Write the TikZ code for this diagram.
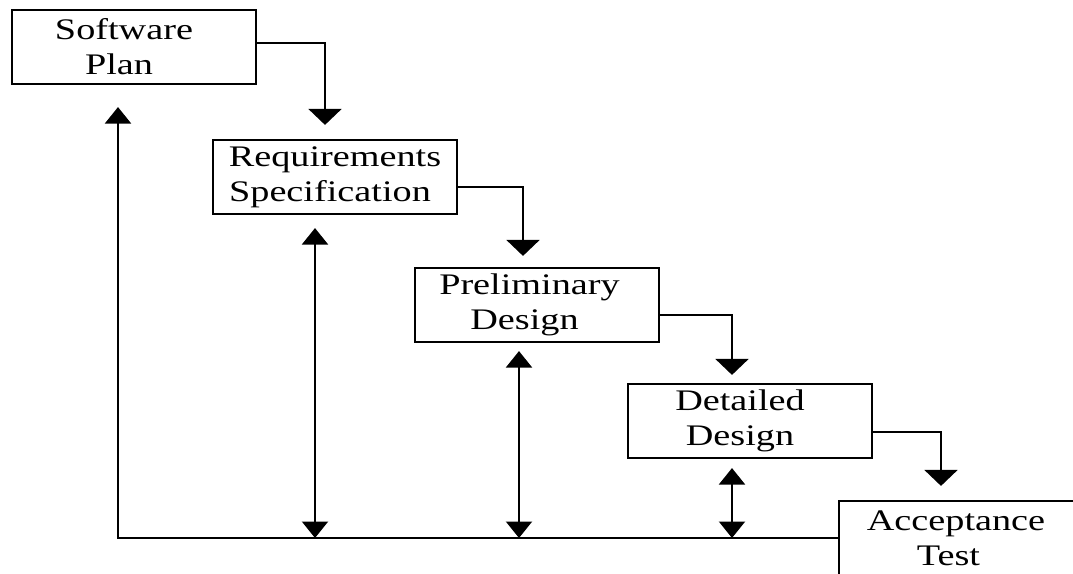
\documentclass[tikz,border=0pt]{standalone}
\usepackage{fontspec}
\setmainfont{Liberation Serif}[FakeStretch=1.28]
\usetikzlibrary{arrows.meta,calc}

\begin{document}
\begin{tikzpicture}[x=0.02cm,y=-0.02cm,
    box/.style={draw,line width=1.25pt,minimum width=4.88cm,minimum height=1.48cm,
      inner sep=0pt,align=center,font=\fontsize{17}{20}\selectfont},
    flow/.style={line width=1.25pt,-{Triangle[width=0.66cm,length=0.32cm]}},
    link/.style={line width=1.25pt,
      {Triangle[width=0.52cm,length=0.33cm]}-{Triangle[width=0.52cm,length=0.33cm]}},
    back/.style={line width=1.25pt,-{Triangle[width=0.52cm,length=0.33cm]}}]
    \path[use as bounding box,clip] (0,0) rectangle (1073,574);
    \node[box] (plan) at (134,47) {Software\hspace*{0.4cm}\\Plan\hspace*{0.6cm}};
    \node[box] (spec) at (335,177) {Requirements\\Specification\hspace*{0.2cm}};
    \node[box] (prelim) at (537,305) {Preliminary\hspace*{0.3cm}\\Design\hspace*{0.5cm}};
    \node[box] (detail) at (750,421) {Detailed\hspace*{0.4cm}\\Design\hspace*{0.4cm}};
    \node[box] (accept) at (961,538) {Acceptance\hspace*{0.2cm}\\Test\hspace*{0.5cm}};
    \draw[flow] ($(plan.east)+(0,-4)$) -| ($(spec.north)+(-10,-14)$);
    \draw[flow] ($(spec.east)+(0,10)$) -| ($(prelim.north)+(-14,-11)$);
    \draw[flow] ($(prelim.east)+(0,10)$) -| ($(detail.north)+(-18,-8)$);
    \draw[flow] ($(detail.east)+(0,11)$) -| ($(accept.north)+(-20,-14)$);
    \draw[back] (accept.west) -| ($(plan.south)+(-16,22)$);
    \draw[link] ($(spec.south)+(-20,13)$) coordinate (s1) -- (s1 |- accept.west);
    \draw[link] ($(prelim.south)+(-18,8)$) coordinate (s2) -- (s2 |- accept.west);
    \draw[link] ($(detail.south)+(-18,9)$) coordinate (s3) -- (s3 |- accept.west);
\end{tikzpicture}
\end{document}
